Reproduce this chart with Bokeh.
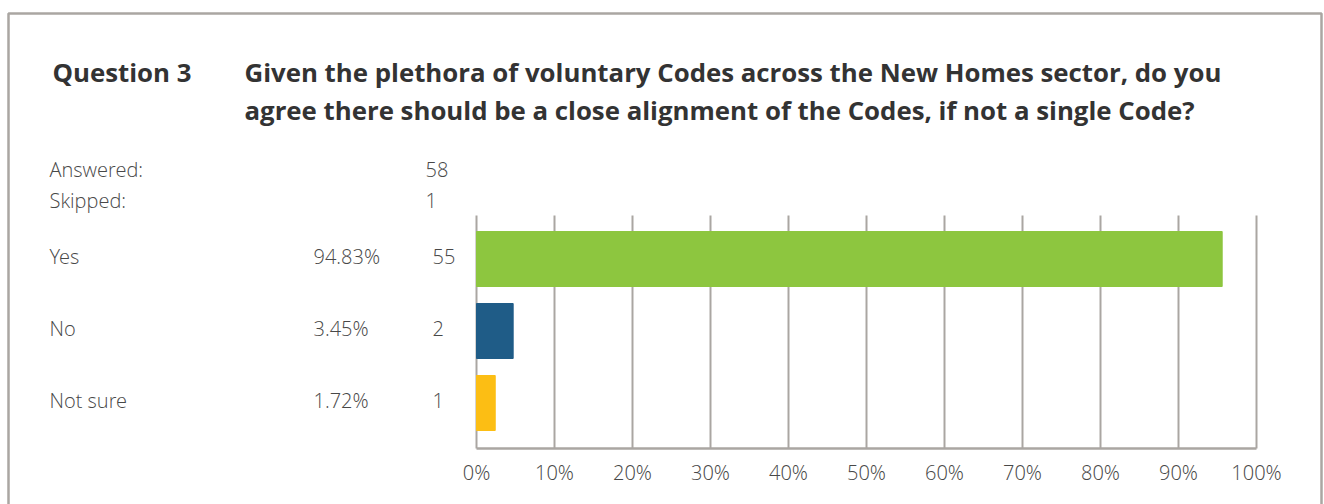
from bokeh.plotting import figure
from bokeh.models import Range1d, ColumnDataSource
from bokeh.core.properties import value
from bokeh.embed import file_html
from bokeh.resources import INLINE

# ---------------- data ----------------
question_number = "Question 3"
question_lines = [
    "Given the plethora of voluntary Codes across the New Homes sector, do you",
    "agree there should be a close alignment of the Codes, if not a single Code?",
]
summary_labels = ["Answered:", "Skipped:"]
summary_values = ["58", "1"]
choices = ["Yes", "No", "Not sure"]
percent_labels = ["94.83%", "3.45%", "1.72%"]
counts = ["55", "2", "1"]
bar_lengths = [95.6, 4.7, 2.4]          # bar lengths (%) as drawn
bar_colors = ["#8dc63f", "#1f5c87", "#fcbe14"]
tick_values = [0, 10, 20, 30, 40, 50, 60, 70, 80, 90, 100]
tick_labels = ["0%", "10%", "20%", "30%", "40%", "50%", "60%", "70%", "80%", "90%", "100%"]

# ---------------- layout (pixels) ----------------
W, H = 1324, 504
FRAME_L, FRAME_R, FRAME_T, FRAME_B = 476, 1256, 215, 448
ROW_PX = 72.0
FIRST_ROW_PX = 258.5

def xpx(px):
    return (px - FRAME_L) * 100.0 / (FRAME_R - FRAME_L)

def ypx(py):
    return (py - FIRST_ROW_PX) / ROW_PX

def ybase(py, size):
    # place text so that its alphabetic baseline lands on pixel row py
    return ypx(py - 0.4 * size)

GRAY_LINE = "#aaa6a2"
TEXT = "#484848"
TITLE = "#333333"
FONT = value("'Open Sans Light', 'Open Sans'")
TFONT = value("Open Sans")
FS = 20
TFS = 25.8

positions = list(range(len(choices)))

p = figure(width=W, height=H, output_backend="svg", toolbar_location=None,
           x_range=Range1d(xpx(0), xpx(W)), y_range=Range1d(ypx(H), ypx(0)),
           min_border=0)
p.outline_line_color = None
p.background_fill_color = "white"
p.border_fill_color = "white"
p.xaxis.visible = False
p.yaxis.visible = False
p.xgrid.visible = False
p.ygrid.visible = False

# outer frame
p.quad(left=xpx(8), right=xpx(1321), top=ypx(13), bottom=ypx(620),
       fill_alpha=0, line_color=GRAY_LINE, line_width=2.5)

# value-axis gridlines and axis line (data: tick_values)
n = len(tick_values)
p.segment(x0=tick_values, x1=tick_values, y0=[ypx(FRAME_T)] * n, y1=[ypx(FRAME_B)] * n,
          line_color=GRAY_LINE, line_width=2)
p.segment(x0=[tick_values[0]], x1=[tick_values[-1]], y0=[ypx(FRAME_B)], y1=[ypx(FRAME_B)],
          line_color=GRAY_LINE, line_width=2.5)
p.text(x=tick_values, y=[ybase(480, FS)] * n, text=tick_labels, text_font=FONT,
       text_font_size=f"{FS}px", text_color=TEXT, text_align="center",
       text_baseline="alphabetic")

# bars
src = ColumnDataSource(dict(y=positions, right=bar_lengths, color=bar_colors))
p.hbar(y="y", left=0, right="right", height=55.0 / ROW_PX, color="color", source=src)

# row labels (baseline ~5px below each bar's centre)
src_txt = ColumnDataSource(dict(
    y=[v + (5.0 - 0.4 * FS) / ROW_PX for v in positions],
    x_choice=[xpx(49)] * len(choices),
    x_pct=[xpx(313)] * len(choices),
    x_cnt=[xpx(432)] * len(choices),
    choice=choices, pct=percent_labels, count=counts))
for xcol, tcol in (("x_choice", "choice"), ("x_pct", "pct"), ("x_cnt", "count")):
    p.text(x=xcol, y="y", text=tcol, source=src_txt, text_font=FONT,
           text_font_size=f"{FS}px", text_color=TEXT, text_baseline="alphabetic",
           text_align="left")

# summary
sum_base = [177, 208]
src_sum = ColumnDataSource(dict(
    y=[ybase(b, FS) for b in sum_base],
    x_lab=[xpx(49)] * 2, x_val=[xpx(425)] * 2,
    lab=summary_labels, val=summary_values))
for xcol, tcol in (("x_lab", "lab"), ("x_val", "val")):
    p.text(x=xcol, y="y", text=tcol, source=src_sum, text_font=FONT,
           text_font_size=f"{FS}px", text_color=TEXT, text_baseline="alphabetic",
           text_align="left")

# title
p.text(x=[xpx(52)], y=[ybase(82, TFS)], text=[question_number], text_font=TFONT,
       text_font_size=f"{TFS}px", text_font_style="bold", text_color=TITLE,
       text_baseline="alphabetic")
p.text(x=[xpx(244)] * 2, y=[ybase(82, TFS), ybase(120, TFS)], text=question_lines,
       text_font=TFONT, text_font_size=f"{TFS}px", text_font_style="bold",
       text_color=TITLE, text_baseline="alphabetic")

open("out.html", "w").write(file_html(p, INLINE))
